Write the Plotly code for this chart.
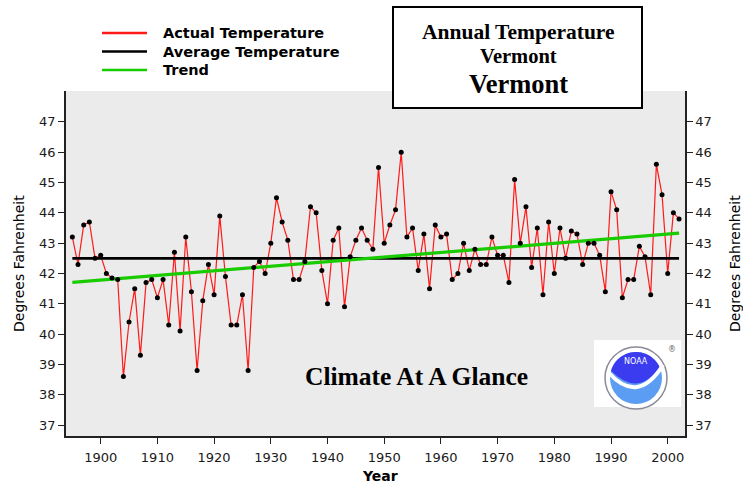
import numpy as np
import plotly.graph_objects as go

# ---------------- data ----------------
years = list(range(1895, 2003))
actual_temp = [
    43.2, 42.3, 43.6, 43.7, 42.5, 42.6, 42.0, 41.85, 41.8, 38.6,   # 1895-1904
    40.4, 41.5, 39.3, 41.7, 41.8, 41.2, 41.8, 40.3, 42.7, 40.1,    # 1905-1914
    43.2, 41.4, 38.8, 41.1, 42.3, 41.3, 43.9, 41.9, 40.3, 40.3,    # 1915-1924
    41.3, 38.8, 42.2, 42.4, 42.0, 43.0, 44.5, 43.7, 43.1, 41.8,    # 1925-1934
    41.8, 42.4, 44.2, 44.0, 42.1, 41.0, 43.1, 43.5, 40.9, 42.55,   # 1935-1944
    43.1, 43.5, 43.1, 42.8, 45.5, 43.0, 43.6, 44.1, 46.0, 43.2,    # 1945-1954
    43.5, 42.1, 43.3, 41.5, 43.6, 43.2, 43.3, 41.8, 42.0, 43.0,    # 1955-1964
    42.1, 42.8, 42.3, 42.3, 43.2, 42.6, 42.6, 41.7, 45.1, 43.0,    # 1965-1974
    44.2, 42.2, 43.5, 41.3, 43.7, 42.0, 43.5, 42.5, 43.4, 43.3,    # 1975-1984
    42.3, 43.0, 43.0, 42.6, 41.4, 44.7, 44.1, 41.2, 41.8, 41.8,    # 1985-1994
    42.9, 42.55, 41.3, 45.6, 44.6, 42.0, 44.0, 43.8,               # 1995-2002
]
average_temp = 42.5
trend_years = [1895, 2002]
trend_values = [41.71, 43.33]

y_ticks = list(range(37, 48))
x_ticks = list(range(1900, 2001, 10))
legend_labels = ["Actual Temperature", "Average Temperature", "Trend"]
title_lines = ["Annual Temperature", "Vermont", "Vermont"]
watermark = "Climate At A Glance"
y_title = "Degrees Fahrenheit"
x_title = "Year"

RED, BLACK, GREEN = "#ff1a1a", "#000000", "#19cc00"

# ---------------- geometry helpers (pixel -> paper) ----------------
W, H = 743, 483
ML, MR, MT, MB = 66, 58, 91, 47
PW, PH = W - ML - MR, H - MT - MB


def px(x):
    return (x - ML) / PW


def py(y):
    return (H - MB - y) / PH


fig = go.Figure()

fig.add_trace(go.Scatter(x=years, y=actual_temp, mode="lines",
                         line=dict(color=RED, width=1.2),
                         name=legend_labels[0], showlegend=False, hoverinfo="skip"))
fig.add_trace(go.Scatter(x=[years[0], years[-1]], y=[average_temp, average_temp], mode="lines",
                         line=dict(color=BLACK, width=2.6),
                         name=legend_labels[1], showlegend=False))
fig.add_trace(go.Scatter(x=trend_years, y=trend_values, mode="lines",
                         line=dict(color=GREEN, width=3.2),
                         name=legend_labels[2], showlegend=False))
fig.add_trace(go.Scatter(x=years, y=actual_temp, mode="markers",
                         marker=dict(color="black", size=5, symbol="circle"),
                         showlegend=False, name=legend_labels[0]))
# invisible trace to activate the right-hand axis
fig.add_trace(go.Scatter(x=[years[0]], y=[average_temp], yaxis="y2", mode="markers",
                         marker=dict(opacity=0), showlegend=False, hoverinfo="skip"))

tickfont = dict(family="DejaVu Sans", size=13, color="#1a1a1a")
yr = [36.64, 48.02]
common = dict(ticks="outside", ticklen=6, tickcolor="#222", tickwidth=1,
              showline=True, linecolor="#222", linewidth=1.5, automargin=False,
              showgrid=False, zeroline=False, tickfont=tickfont)

fig.update_layout(
    width=W, height=H,
    margin=dict(l=ML, r=MR, t=MT, b=MB, autoexpand=False),
    paper_bgcolor="white",
    plot_bgcolor="#ebebeb",
    showlegend=False,
    xaxis=dict(range=[1893.88, 2003.05], tickmode="array", tickvals=x_ticks,
               ticklabelstandoff=3, **common),
    yaxis=dict(range=yr, tickmode="array", tickvals=y_ticks, **common),
    yaxis2=dict(range=yr, tickmode="array", tickvals=y_ticks, overlaying="y", side="right",
                **common),
)

shapes = []
annotations = []

# axis titles
tfont = dict(family="DejaVu Sans", size=14, color="black")
annotations.append(dict(text=y_title, xref="paper", yref="paper", x=px(19), y=py(264),
                        textangle=-90, showarrow=False, xanchor="center", yanchor="middle",
                        font=tfont))
annotations.append(dict(text=y_title, xref="paper", yref="paper", x=px(735), y=py(264),
                        textangle=-90, showarrow=False, xanchor="center", yanchor="middle",
                        font=tfont))
annotations.append(dict(text="<b>%s</b>" % x_title, xref="paper", yref="paper", x=px(380), y=py(476),
                        showarrow=False, xanchor="center", yanchor="middle", font=tfont))

# legend (drawn manually to match the original layout)
for i, (lab, col) in enumerate(zip(legend_labels, [RED, BLACK, GREEN])):
    yy = 33 + i * 18.5
    shapes.append(dict(type="line", xref="paper", yref="paper",
                       x0=px(102), x1=px(147), y0=py(yy), y1=py(yy),
                       line=dict(color=col, width=2.5)))
    annotations.append(dict(text="<b>%s</b>" % lab, xref="paper", yref="paper", x=px(161), y=py(yy),
                            xanchor="left", yanchor="middle", showarrow=False,
                            font=dict(family="DejaVu Sans", size=14.5, color="black")))

# title box
shapes.append(dict(type="rect", xref="paper", yref="paper", layer="above",
                   x0=px(393), x1=px(642), y0=py(108), y1=py(7),
                   fillcolor="white", line=dict(color="black", width=2)))
for txt, yy, sz in zip(title_lines, [31.5, 55.5, 84.5], [21.5, 20.5, 26.5]):
    annotations.append(dict(text="<b>%s</b>" % txt, xref="paper", yref="paper",
                            x=px(518), y=py(yy), xanchor="center", yanchor="middle",
                            showarrow=False,
                            font=dict(family="Liberation Serif", size=sz, color="black")))

# watermark text
annotations.append(dict(text="<b>%s</b>" % watermark, xref="paper", yref="paper",
                        x=px(416), y=py(376), xanchor="center", yanchor="middle",
                        showarrow=False,
                        font=dict(family="Liberation Serif", size=25.5, color="black")))

# NOAA logo (decorative)
cx, cy = 636, 378
shapes.append(dict(type="rect", xref="paper", yref="paper", layer="above",
                   x0=px(594), x1=px(681), y0=py(407), y1=py(340),
                   fillcolor="white", line=dict(width=0)))
shapes.append(dict(type="circle", xref="paper", yref="paper", layer="above",
                   x0=px(cx - 31), x1=px(cx + 31), y0=py(cy + 31), y1=py(cy - 31),
                   fillcolor="white", line=dict(color="#8a8a9a", width=1.5)))
shapes.append(dict(type="circle", xref="paper", yref="paper", layer="above",
                   x0=px(cx - 26), x1=px(cx + 26), y0=py(cy + 26), y1=py(cy - 26),
                   fillcolor="#5b9df2", line=dict(width=0)))
# dark blue cap
a0, a1 = np.deg2rad(196), np.deg2rad(335)
ang = np.linspace(a0, a1, 30)
pts = [(cx + 26 * np.cos(a), cy + 26 * np.sin(a)) for a in ang]
path = "M " + " L ".join("%.4f,%.4f" % (px(x), py(y)) for x, y in pts)
lx, ly = pts[0]
path += " Q %.4f,%.4f %.4f,%.4f Z" % (px(cx + 2), py(cy + 20), px(lx), py(ly))
shapes.append(dict(type="path", xref="paper", yref="paper", layer="above", path=path,
                   fillcolor="#3b3bef", line=dict(width=0)))
# white gull
gpath = "M %.4f,%.4f Q %.4f,%.4f %.4f,%.4f" % (px(cx - 27), py(cy - 5), px(cx + 2), py(cy + 27),
                                              px(cx + 27), py(cy - 13))
shapes.append(dict(type="path", xref="paper", yref="paper", layer="above", path=gpath,
                   line=dict(color="white", width=4)))
annotations.append(dict(text="NOAA", xref="paper", yref="paper", x=px(cx), y=py(cy - 17),
                        xanchor="center", yanchor="middle", showarrow=False,
                        font=dict(family="DejaVu Sans", size=8, color="white")))
annotations.append(dict(text="®", xref="paper", yref="paper", x=px(672), y=py(349),
                        xanchor="center", yanchor="middle", showarrow=False,
                        font=dict(family="DejaVu Sans", size=8, color="#666")))

fig.update_layout(shapes=shapes, annotations=annotations)

fig.write_html("out.html", config={"displayModeBar": False},
               post_script="document.body.style.margin='0';")
